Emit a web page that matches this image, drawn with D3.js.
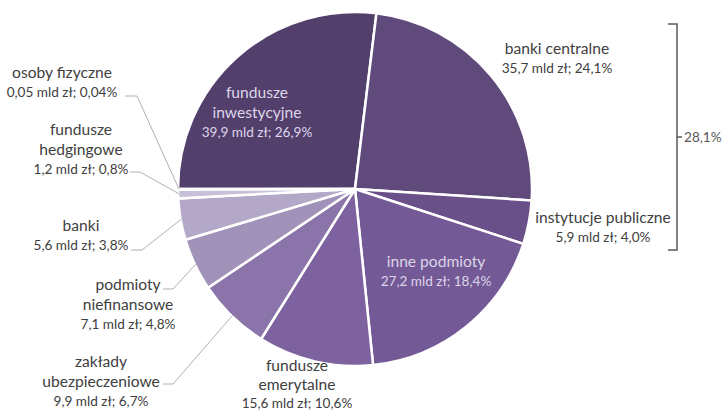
<!DOCTYPE html>
<html><head><meta charset="utf-8">
<script src="https://cdn.jsdelivr.net/npm/d3@7"></script>
<style>body{margin:0;background:#fff}svg{display:block}text{font-family:Lato,"Open Sans",sans-serif}</style>
</head><body><svg id="c" width="723" height="414"></svg>
<script>
// data
const categories = ["fundusze inwestycyjne","banki centralne","instytucje publiczne","inne podmioty","fundusze emerytalne","zakłady ubezpieczeniowe","podmioty niefinansowe","banki","fundusze hedgingowe","osoby fizyczne"];
const nameLines = [["fundusze","inwestycyjne"],["banki centralne"],["instytucje publiczne"],["inne podmioty"],["fundusze","emerytalne"],["zakłady","ubezpieczeniowe"],["podmioty","niefinansowe"],["banki"],["fundusze","hedgingowe"],["osoby fizyczne"]];
const values = [39.9,35.7,5.9,27.2,15.6,9.9,7.1,5.6,1.2,0.05];
const valueLabels = ["39,9 mld zł; 26,9%","35,7 mld zł; 24,1%","5,9 mld zł; 4,0%","27,2 mld zł; 18,4%","15,6 mld zł; 10,6%","9,9 mld zł; 6,7%","7,1 mld zł; 4,8%","5,6 mld zł; 3,8%","1,2 mld zł; 0,8%","0,05 mld zł; 0,04%"];
const colors = ["#523f6c","#604a7b","#6a5088","#735a96","#7e62a0","#8b74a9","#a192b9","#b3a8c8","#c8bfd8","#d3cce1"];
const bracketLabel = "28,1%";

// layout (label centre x, first line y, inside flag, leader points)
const layout = [
  {x:257,y:98,inside:true},
  {x:557,y:54},
  {x:603,y:223},
  {x:436,y:267,inside:true},
  {x:297,y:371,step:19},
  {x:101,y:367,leader:[163,384,173,384]},
  {x:128,y:290,leader:[163,289,173,289]},
  {x:81,y:231,leader:[131,250,142,250]},
  {x:81,y:135,leader:[130,172,140,172]},
  {x:62,y:78,leader:[125,96,137,96]}
];

const svg = d3.select("#c");
const cx = 355, cy = 189, R = 177;
const g = svg.append("g").attr("transform",`translate(${cx},${cy})`);
const pie = d3.pie().sort(null).value(d=>d).startAngle(-Math.PI/2).endAngle(1.5*Math.PI);
const arcs = pie(values);
const arc = d3.arc().innerRadius(0).outerRadius(R);
g.selectAll("path.s").data(arcs).join("path").attr("class","s")
  .attr("d",arc).attr("fill",(d,i)=>colors[i])
  .attr("stroke","#fff").attr("stroke-width",2.5).attr("stroke-linejoin","round");

// leaders
arcs.forEach((a,i)=>{
  const L = layout[i];
  if(!L.leader) return;
  const mid = (a.startAngle+a.endAngle)/2;
  const ex = cx + (R-1)*Math.sin(mid), ey = cy - (R-1)*Math.cos(mid);
  svg.append("polyline")
    .attr("points",`${L.leader[0]},${L.leader[1]} ${L.leader[2]},${L.leader[3]} ${ex},${ey}`)
    .attr("fill","none").attr("stroke","#b0b0b0").attr("stroke-width",1);
});

// labels
arcs.forEach((a,i)=>{
  const L = layout[i];
  const col = L.inside ? "#ddd5e8" : "#404040";
  const step = L.step || 20;
  const t = svg.append("text").attr("text-anchor","middle").attr("fill",col);
  let y = L.y;
  nameLines[i].forEach(s=>{
    t.append("tspan").attr("x",L.x).attr("y",y).attr("font-size",15.6).text(s);
    y += step;
  });
  t.append("tspan").attr("x",L.x).attr("y",y-1).attr("font-size",13.6).text(valueLabels[i]);
});

// bracket
svg.append("path").attr("d","M668,24 H677 V250 H668 M677,137 H682")
  .attr("fill","none").attr("stroke","#595959").attr("stroke-width",1.5);
svg.append("text").attr("x",684).attr("y",142).attr("font-size",13.6).attr("fill","#595959").text(bracketLabel);
</script></body></html>
